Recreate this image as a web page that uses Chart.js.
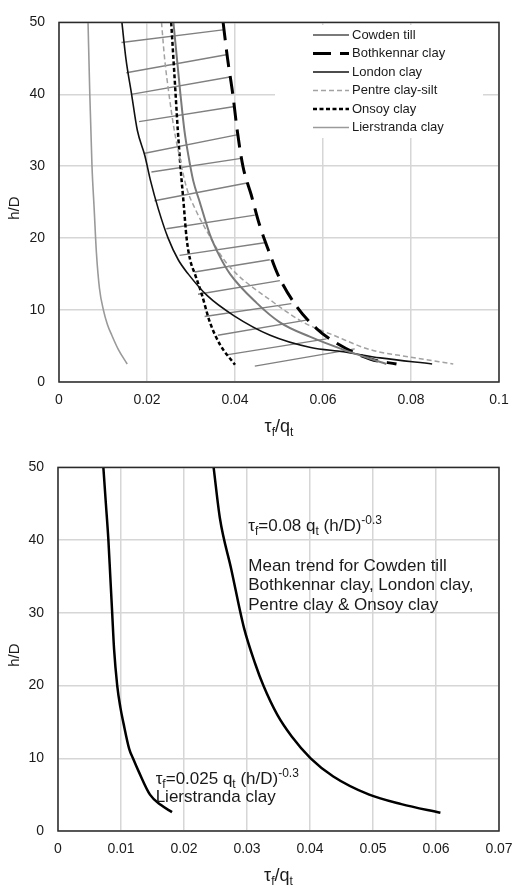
<!DOCTYPE html>
<html>
<head>
<meta charset="utf-8">
<script src="https://cdn.jsdelivr.net/npm/chart.js@4.4.1/dist/chart.umd.min.js"></script>
<style>
  body { margin: 0; background: #fff; }
  canvas { display: block; }
</style>
</head>
<body>
<canvas id="chartTop" width="523" height="445"></canvas>
<canvas id="chartBottom" width="523" height="444"></canvas>
<script>
// tau_f/q_t against h/D for each soil (top panel)
const cowdenX = [0.0260, 0.0268, 0.0276, 0.0285, 0.0294, 0.0305, 0.0320, 0.0343, 0.0365, 0.0389, 0.0449, 0.0502, 0.0570, 0.0646, 0.0744];
const cowdenY = [50, 45, 40, 35, 31.5, 28, 25, 20.5, 17.5, 15, 11, 8.3, 6.3, 4.5, 2.5];
const bothX = [0.0373, 0.0383, 0.0395, 0.0405, 0.0418, 0.0437, 0.0455, 0.0478, 0.0497, 0.0540, 0.0586, 0.0631, 0.0707, 0.0767];
const bothY = [50, 45, 40, 35, 30, 26, 22, 18, 15, 10.5, 7.4, 5.4, 3.2, 2.5];
const londonX = [0.0143, 0.0152, 0.0165, 0.0178, 0.0195, 0.0208, 0.0226, 0.0248, 0.0271, 0.0294, 0.0337, 0.0398, 0.0480, 0.0572, 0.0646, 0.0730, 0.0848];
const londonY = [50, 45, 40, 35, 31.5, 28, 24, 20, 17, 15, 12, 9.2, 6.5, 4.8, 4.2, 3.35, 2.5];
const pentreX = [0.0233, 0.0240, 0.0250, 0.0262, 0.0275, 0.0290, 0.0310, 0.0345, 0.0375, 0.0404, 0.0480, 0.0555, 0.0624, 0.0707, 0.0800, 0.0896];
const pentreY = [50, 45, 40, 35, 31, 27, 24, 20, 17, 15, 11.4, 8.3, 6.5, 4.5, 3.45, 2.5];
const onsoyX = [0.0255, 0.0260, 0.0265, 0.0270, 0.0276, 0.0283, 0.0290, 0.0298, 0.0309, 0.0324, 0.0343, 0.0366, 0.0400];
const onsoyY = [50, 45, 40, 35, 30, 25, 20, 17, 15, 12.3, 8.3, 5.2, 2.4];
const lierX = [0.0066, 0.0070, 0.0075, 0.0080, 0.0085, 0.0092, 0.0101, 0.0110, 0.0120, 0.0135, 0.0155];
const lierY = [50, 40, 30, 24, 18, 13, 10, 8, 6.5, 4.5, 2.5];

// range hatching between the envelope curves (start / end of each stroke)
const hatchX0 = [0.0142, 0.0153, 0.0164, 0.0182, 0.0195, 0.0210, 0.0217, 0.0244, 0.0274, 0.0308, 0.0316, 0.0331, 0.0361, 0.0384, 0.0445];
const hatchY0 = [47.2, 43.0, 40.0, 36.2, 31.8, 29.2, 25.2, 21.3, 17.6, 15.3, 12.2, 9.1, 6.5, 3.8, 2.2];
const hatchX1 = [0.0377, 0.0380, 0.0388, 0.0399, 0.0407, 0.0414, 0.0430, 0.0445, 0.0471, 0.0479, 0.0502, 0.0528, 0.0562, 0.0608, 0.0672];
const hatchY1 = [49.0, 45.5, 42.4, 38.3, 34.4, 31.1, 27.7, 23.2, 19.4, 17.0, 14.1, 10.9, 8.6, 6.0, 4.6];

// fitted trends (bottom panel)
const lowX = [0.0072, 0.0076, 0.0080, 0.0083, 0.0086, 0.0089, 0.0094, 0.0099, 0.0104, 0.0113, 0.0119, 0.0128, 0.0146, 0.0163, 0.0181];
const lowY = [50, 45, 40, 35, 30, 25, 20, 17, 14.8, 11.3, 10, 8.2, 5.0, 3.6, 2.6];
const highX = [0.0247, 0.0257, 0.0275, 0.0295, 0.0313, 0.0326, 0.0348, 0.0371, 0.0401, 0.0437, 0.0494, 0.0545, 0.0607];
const highY = [50, 43, 36, 28, 23, 20, 16, 13, 10, 7.5, 5, 3.7, 2.5];

const topXTicks = ['0', '0.02', '0.04', '0.06', '0.08', '0.1'];
const bottomXTicks = ['0', '0.01', '0.02', '0.03', '0.04', '0.05', '0.06', '0.07'];
const yTicks = ['0', '10', '20', '30', '40', '50'];

const FONT = '"Liberation Sans", Arial, sans-serif';

const pts = (xs, ys) => xs.map((x, i) => ({ x: x, y: ys[i] }));

function hatchPts() {
    const out = [];
    hatchX0.forEach((x, i) => {
        out.push({ x: x, y: hatchY0[i] });
        out.push({ x: hatchX1[i], y: hatchY1[i] });
        out.push({ x: null, y: null });
    });
    return out;
}

// text with sub/superscripts: parts = [[text, 'n'|'sub'|'sup'], ...]
function drawRich(ctx, parts, x, y, size, align) {
    const fontOf = k => (k === 'n' ? size : Math.round(size * 0.68)) + 'px ' + FONT;
    let w = 0;
    parts.forEach(p => { ctx.font = fontOf(p[1]); w += ctx.measureText(p[0]).width; });
    let cx = align === 'center' ? x - w / 2 : x;
    ctx.textAlign = 'left';
    ctx.textBaseline = 'middle';
    parts.forEach(p => {
        ctx.font = fontOf(p[1]);
        const dy = p[1] === 'sub' ? size * 0.3 : (p[1] === 'sup' ? -size * 0.35 : 0);
        ctx.fillText(p[0], cx, y + dy);
        cx += ctx.measureText(p[0]).width;
    });
}

const xTitle = [['τ', 'n'], ['f', 'sub'], ['/q', 'n'], ['t', 'sub']];

// frame round the plot area plus both axis titles
const framePlugin = {
    id: 'frame',
    afterDraw(chart) {
        const ctx = chart.ctx, a = chart.chartArea;
        ctx.save();
        ctx.strokeStyle = '#2a2a2a';
        ctx.lineWidth = 1.5;
        ctx.strokeRect(a.left, a.top, a.width, a.height);
        ctx.fillStyle = '#1a1a1a';
        drawRich(ctx, xTitle, (a.left + a.right) / 2, a.bottom + 45, 18, 'center');
        ctx.translate(15, (a.top + a.bottom) / 2 + 6);
        ctx.rotate(-Math.PI / 2);
        ctx.font = '15px ' + FONT;
        ctx.textAlign = 'center';
        ctx.textBaseline = 'middle';
        ctx.fillText('h/D', 0, 0);
        ctx.restore();
    }
};

// boxed legend inside the top panel
const legendPlugin = {
    id: 'boxLegend',
    afterDatasetsDraw(chart) {
        const ctx = chart.ctx;
        ctx.save();
        ctx.fillStyle = '#fff';
        ctx.fillRect(275, 25, 208, 113);
        chart.data.datasets.filter(d => d.label).forEach((d, i) => {
            const y = 35 + i * 18.5;
            ctx.strokeStyle = d.borderColor;
            ctx.lineWidth = d.borderWidth;
            ctx.setLineDash(d.borderDash || []);
            ctx.beginPath();
            ctx.moveTo(313, y);
            ctx.lineTo(349, y);
            ctx.stroke();
            ctx.setLineDash([]);
            ctx.fillStyle = '#1a1a1a';
            ctx.font = '13px ' + FONT;
            ctx.textAlign = 'left';
            ctx.textBaseline = 'middle';
            ctx.fillText(d.label, 352, y);
        });
        ctx.restore();
    }
};

// equations and captions in the bottom panel
const notesPlugin = {
    id: 'notes',
    afterDatasetsDraw(chart) {
        const ctx = chart.ctx, sx = chart.scales.x, sy = chart.scales.y;
        ctx.save();
        ctx.fillStyle = '#1a1a1a';
        drawRich(ctx, [['τ', 'n'], ['f', 'sub'], ['=0.08 q', 'n'], ['t', 'sub'], [' (h/D)', 'n'], ['-0.3', 'sup']],
            sx.getPixelForValue(0.0302), sy.getPixelForValue(41.9), 17, 'left');
        ['Mean trend for Cowden till', 'Bothkennar clay, London clay,', 'Pentre clay & Onsoy clay'].forEach((t, i) => {
            drawRich(ctx, [[t, 'n']], sx.getPixelForValue(0.0302), sy.getPixelForValue(36.46 - i * 2.68), 17, 'left');
        });
        drawRich(ctx, [['τ', 'n'], ['f', 'sub'], ['=0.025 q', 'n'], ['t', 'sub'], [' (h/D)', 'n'], ['-0.3', 'sup']],
            sx.getPixelForValue(0.0155), sy.getPixelForValue(7.13), 17, 'left');
        drawRich(ctx, [['Lierstranda clay', 'n']], sx.getPixelForValue(0.0155), sy.getPixelForValue(4.59), 17, 'left');
        ctx.restore();
    }
};

function line(label, xs, ys, color, width, dash) {
    return {
        label: label,
        data: pts(xs, ys),
        showLine: true,
        borderColor: color,
        borderWidth: width,
        borderDash: dash,
        pointRadius: 0,
        cubicInterpolationMode: 'monotone',
        fill: false
    };
}

function scales(xMax, xStep, xLabels, leftWidth, bottomHeight) {
    return {
        x: {
            type: 'linear', min: 0, max: xMax,
            grid: { color: '#d6d6d6', lineWidth: 1.5, drawTicks: false },
            border: { display: false },
            afterFit: s => { s.height = bottomHeight; },
            ticks: {
                stepSize: xStep, padding: 10, color: '#1a1a1a',
                font: { family: FONT, size: 14 },
                callback: (v, i) => xLabels[i]
            }
        },
        y: {
            type: 'linear', min: 0, max: 50,
            grid: { color: '#d6d6d6', lineWidth: 1.5, drawTicks: false },
            border: { display: false },
            afterFit: s => { s.width = leftWidth; },
            ticks: {
                stepSize: 10, padding: 14, color: '#1a1a1a',
                font: { family: FONT, size: 14 },
                callback: (v, i) => yTicks[i]
            }
        }
    };
}

const common = {
    responsive: false,
    animation: false,
    plugins: { legend: { display: false }, tooltip: { enabled: false } }
};

new Chart(document.getElementById('chartTop'), {
    type: 'scatter',
    data: {
        datasets: [
            line('Cowden till', cowdenX, cowdenY, '#7a7a7a', 2, []),
            line('Bothkennar clay', bothX, bothY, '#000', 3, [18, 9]),
            line('London clay', londonX, londonY, '#111', 1.6, []),
            line('Pentre clay-silt', pentreX, pentreY, '#a2a2a2', 1.5, [5, 3]),
            line('Onsoy clay', onsoyX, onsoyY, '#000', 2.5, [4, 2.5]),
            line('Lierstranda clay', lierX, lierY, '#9a9a9a', 1.6, []),
            {
                data: hatchPts(), showLine: true, spanGaps: false,
                borderColor: '#808080', borderWidth: 1.4, pointRadius: 0
            }
        ]
    },
    options: Object.assign({}, common, {
        layout: { padding: { top: 8, right: 24, left: 0, bottom: 0 } },
        scales: scales(0.1, 0.02, topXTicks, 59, 63)
    }),
    plugins: [framePlugin, legendPlugin]
});

new Chart(document.getElementById('chartBottom'), {
    type: 'scatter',
    data: {
        datasets: [
            line('', lowX, lowY, '#000', 2.5, []),
            line('', highX, highY, '#000', 2.5, [])
        ]
    },
    options: Object.assign({}, common, {
        layout: { padding: { top: 12, right: 24, left: 0, bottom: 0 } },
        scales: scales(0.07, 0.01, bottomXTicks, 58, 58)
    }),
    plugins: [framePlugin, notesPlugin]
});
</script>
</body>
</html>
